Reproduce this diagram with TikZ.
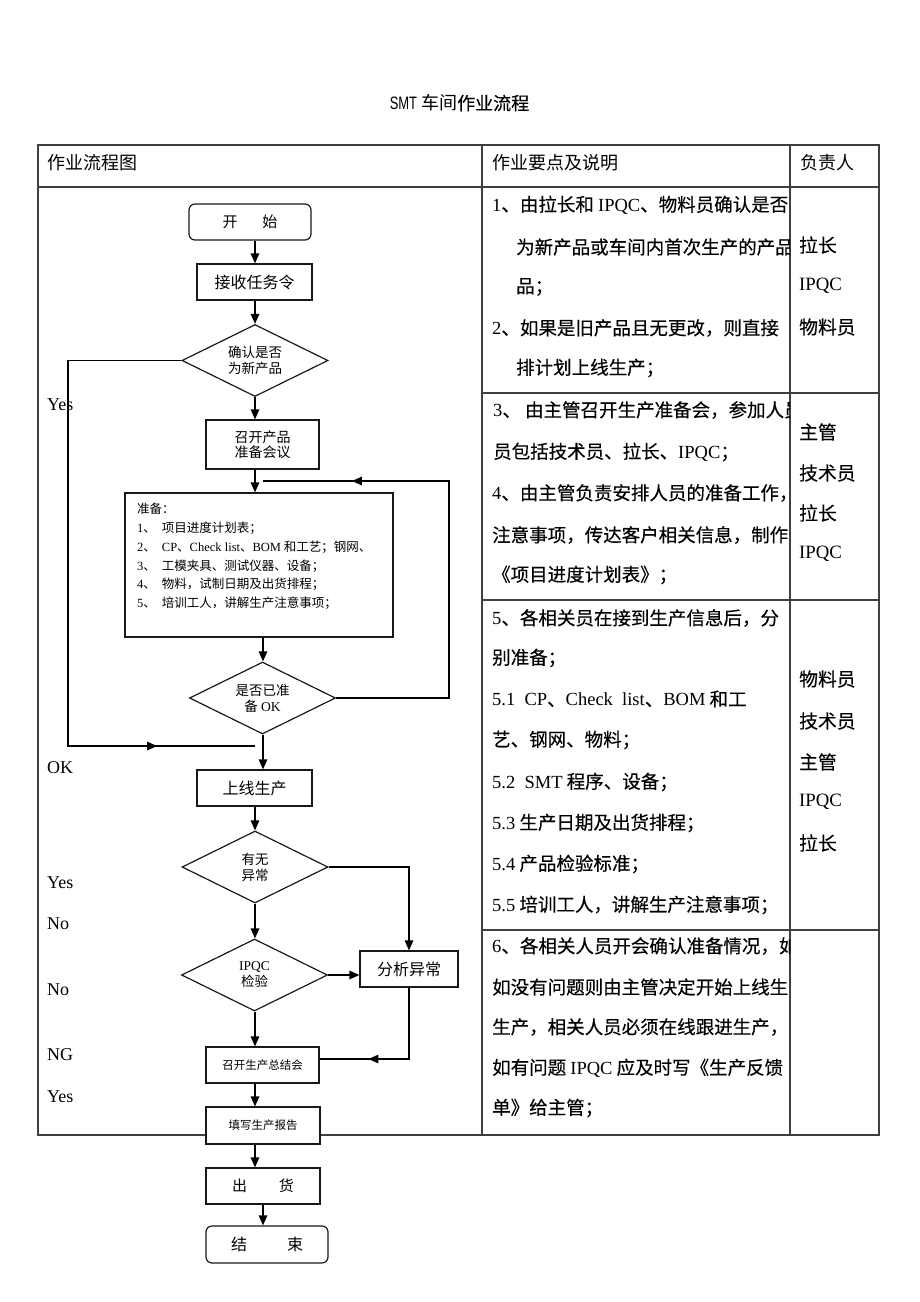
\documentclass[tikz,border=0pt]{standalone}
\usepackage{fontspec}
\setmainfont{Noto Sans CJK SC}
\newfontfamily\en{Liberation Serif}
\newfontfamily\smtf[FakeStretch=0.72]{Liberation Sans}
\newfontfamily\cjkd[FakeBold=0.3]{Noto Sans CJK SC}
\usetikzlibrary{shapes.geometric,arrows.meta,decorations.markings}
\newcommand\fs[1]{\fontsize{#1}{#1}\selectfont}
\begin{document}
\begin{tikzpicture}[x=1pt,y=-1pt,
  tbl/.style={draw=black!75,line width=1.1pt},
  box/.style={draw=black!90,line width=1.2pt,fill=white,inner sep=0pt,align=center},
  rbox/.style={box,rounded corners=6pt},
  dia/.style={diamond,aspect=2,draw=black!90,line width=1.2pt,fill=white,inner sep=0pt,
              minimum width=146pt,minimum height=72pt,align=center,
              font=\fontsize{13.5}{16}\selectfont},
  arr/.style={-{Triangle[length=10pt,width=8.5pt]},line width=1.3pt},
  ln/.style={line width=1.3pt},
  midarr/.style={postaction={decorate},decoration={markings,
      mark=at position #1 with {\arrow{Triangle[length=10pt,width=8.5pt]}}}},
  rt/.style={anchor=west,inner sep=0pt,font=\cjkd\fs{18.5}},
  rr/.style={anchor=west,inner sep=0pt,font=\cjkd\fs{18.8}},
  pt/.style={anchor=west,inner sep=0pt,font=\fs{12.5}},
  lab/.style={anchor=west,inner sep=0pt,font=\en\fs{18}}]
\useasboundingbox[fill=white] (0,0) rectangle (920,1302);

% title
\node[inner sep=0pt,font=\fs{18}] (title) at (459.5,103) {{\smtf SMT} 车间{\cjkd 作业流程}};

% table
\draw[tbl] (38,145) rectangle (879,1135);
\draw[tbl] (38,187) -- (879,187);
\draw[tbl] (482,145) -- (482,1135);
\draw[tbl] (790,145) -- (790,1135);
\draw[tbl] (482,393) -- (879,393);
\draw[tbl] (482,600) -- (879,600);
\draw[tbl] (482,930) -- (879,930);

\node[rt,font=\fs{18}] (h1) at (47,163) {作业流程图};
\node[rt,font=\fs{18}] (h2) at (492,163) {作业要点及说明};
\node[rt,font=\fs{18}] (h3) at (800,163) {负责人};

% right column text
\begin{scope}
\clip (482,187) rectangle (790,1135);
\node[rt] (s1a) at (492,205) {{\en 1}、由拉长和 {\en IPQC}、物料员确认是否};
\node[rt] (s1b) at (516,247) {为新产品或车间内首次生产的产品};
\node[rt] (s1c) at (516,287) {品；};
\node[rt] (s1d) at (492,328) {{\en 2}、如果是旧产品且无更改，则直接};
\node[rt] (s1e) at (516,368) {排计划上线生产；};
\node[rt] (s2a) at (493,410) {{\en 3}、 由主管召开生产准备会，参加人员};
\node[rt] (s2b) at (493,452) {员包括技术员、拉长、{\en IPQC}；};
\node[rt] (s2c) at (492,493) {{\en 4}、由主管负责安排人员的准备工作，};
\node[rt] (s2d) at (492,535) {注意事项，传达客户相关信息，制作};
\node[rt] (s2e) at (492,575) {《项目进度计划表》；};
\node[rt] (s3a) at (492,618) {{\en 5}、各相关员在接到生产信息后，分};
\node[rt] (s3b) at (492,658) {别准备；};
\node[rt] (s3c) at (492,699) {{\en 5.1\ \ CP}、{\en Check\ \ list}、{\en BOM} 和工};
\node[rt] (s3d) at (492,740) {艺、钢网、物料；};
\node[rt] (s3e) at (492,782) {{\en 5.2\ \ SMT} 程序、设备；};
\node[rt] (s3f) at (492,823) {{\en 5.3} 生产日期及出货排程；};
\node[rt] (s3g) at (492,864) {{\en 5.4} 产品检验标准；};
\node[rt] (s3h) at (492,905) {{\en 5.5} 培训工人，讲解生产注意事项；};
\node[rt] (s4a) at (492,946) {{\en 6}、各相关人员开会确认准备情况，如};
\node[rt] (s4b) at (492,987) {如没有问题则由主管决定开始上线生};
\node[rt] (s4c) at (492,1027) {生产，相关人员必须在线跟进生产，};
\node[rt] (s4d) at (492,1068) {如有问题 {\en IPQC} 应及时写《生产反馈};
\node[rt] (s4e) at (492,1108) {单》给主管；};
\end{scope}

% responsible column
\node[rr] (r1a) at (799,245) {拉长};
\node[rr] (r1b) at (799,286) {{\en IPQC}};
\node[rr] (r1c) at (799,327) {物料员};
\node[rr] (r2a) at (799,432) {主管};
\node[rr] (r2b) at (799,473) {技术员};
\node[rr] (r2c) at (799,513) {拉长};
\node[rr] (r2d) at (799,554) {{\en IPQC}};
\node[rr] (r3a) at (799,679) {物料员};
\node[rr] (r3b) at (799,721) {技术员};
\node[rr] (r3c) at (799,762) {主管};
\node[rr] (r3d) at (799,802) {{\en IPQC}};
\node[rr] (r3e) at (799,843) {拉长};

% side labels
\node[lab] (l1) at (47,405) {Yes};
\node[lab] (l2) at (47,768) {OK};
\node[lab] (l3) at (47,883) {Yes};
\node[lab] (l4) at (47,924) {No};
\node[lab] (l5) at (47,990) {No};
\node[lab] (l6) at (47,1055) {NG};
\node[lab] (l7) at (47,1097) {Yes};

% flowchart nodes
\node[rbox,minimum width=122pt,minimum height=36pt,font=\fs{15}] (start) at (250,222) {开\hspace{25pt}始};
\node[box,minimum width=115pt,minimum height=36pt,font=\fs{16}] (recv) at (254.5,282) {接收任务令};
\node[dia] (d1) at (255,360.5) {确认是否\\为新产品};
\node[box,minimum width=113pt,minimum height=49pt,font=\fontsize{14}{15}\selectfont] (meet) at (262.5,444.5) {召开产品\\准备会议};
\node[box,minimum width=268pt,minimum height=144pt] (prep) at (259,565) {};
\node[pt] (p0) at (137,509) {准备：};
\node[pt] (p1) at (137,528) {{\en 1}、\hspace{6pt}项目进度计划表；};
\node[pt] (p2) at (137,547) {{\en 2}、\hspace{6pt}{\en CP}、{\en Check list}、{\en BOM} 和工艺；钢网、};
\node[pt] (p3) at (137,566) {{\en 3}、\hspace{6pt}工模夹具、测试仪器、设备；};
\node[pt] (p4) at (137,584) {{\en 4}、\hspace{6pt}物料，试制日期及出货排程；};
\node[pt] (p5) at (137,603) {{\en 5}、\hspace{6pt}培训工人，讲解生产注意事项；};
\node[dia] (d2) at (262.5,698) {是否已准\\备 {\en OK}};
\node[box,minimum width=115pt,minimum height=36pt,font=\fs{16}] (online) at (254.5,788) {上线生产};
\node[dia] (d3) at (255,867) {有无\\异常};
\node[box,minimum width=98pt,minimum height=36pt,font=\fs{16}] (anal) at (409,969) {分析异常};
\node[dia] (d4) at (254.5,975) {{\en IPQC}\\检验};
\node[box,minimum width=113pt,minimum height=36pt,font=\fs{11.5}] (summ) at (262.5,1065) {召开生产总结会};
\node[box,minimum width=114pt,minimum height=37pt,font=\fs{11.5}] (report) at (263,1125.5) {填写生产报告};
\node[box,minimum width=114pt,minimum height=36pt,font=\fs{15}] (ship) at (263,1186) {出\hspace{32pt}货};
\node[rbox,minimum width=122pt,minimum height=37pt,font=\fs{16}] (end) at (267,1244.5) {结\hspace{40pt}束};

% connectors
\coordinate (ax) at (255,0);
\coordinate (bx) at (263,0);
\draw[arr] (start.south -| ax) -- (recv.north -| ax);
\draw[arr] (recv.south -| ax) -- (d1.north -| ax);
\draw[arr] (d1.south -| ax) -- (meet.north -| ax);
\draw[arr] (meet.south -| ax) -- (prep.north -| ax);
\draw[arr] (prep.south -| bx) -- (d2.north -| bx);
\draw[arr] (d2.south -| bx) -- (online.north -| bx);
\draw[arr] (online.south -| ax) -- (d3.north -| ax);
\draw[arr] (d3.south -| ax) -- (d4.north -| ax);
\draw[arr] (d4.south -| ax) -- (summ.north -| ax);
\draw[arr] (summ.south -| ax) -- (report.north -| ax);
\draw[arr] (report.south -| ax) -- (ship.north -| ax);
\draw[arr] (ship.south -| bx) -- (end.north -| bx);
\draw[arr] (d3.east) -| (anal.north);
\draw[arr] (d4.east) -- (anal.west |- d4.east);

\coordinate (rj) at (409,1059);
\draw[ln,midarr=112pt] (anal.south) -- (rj) -- (summ.east |- rj);

\coordinate (yb) at (68,746);
\coordinate (yend) at (255,746);
\draw[ln,midarr=588pt] (d1.west) -| (yb) -- (yend);

\coordinate (lt) at (449,481);
\coordinate (lstart) at (263,481);
\draw[ln,midarr=427pt] (d2.east) -| (lt) -- (lstart);
\end{tikzpicture}
\end{document}
